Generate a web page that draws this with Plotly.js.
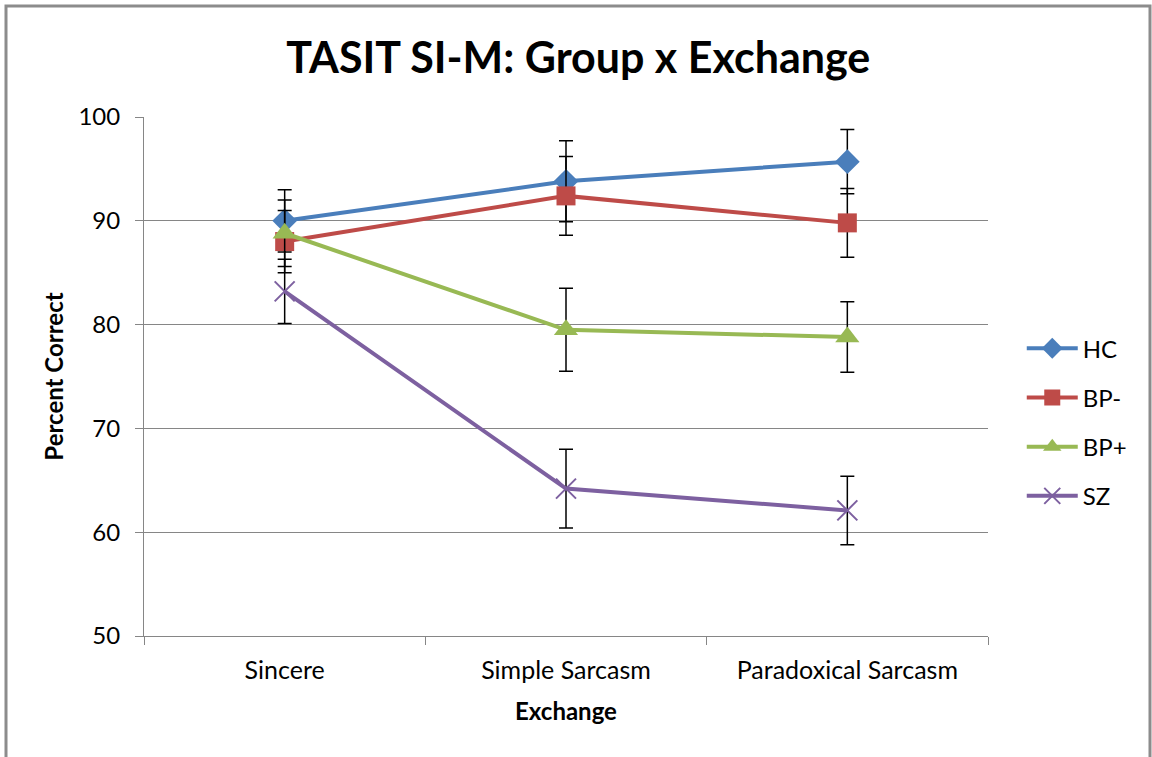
<!DOCTYPE html>
<html>
<head>
<meta charset="utf-8">
<script src="https://cdn.plot.ly/plotly-3.0.1.min.js"></script>
<style>
html,body{margin:0;padding:0;background:#fff;}
#chart{width:1152px;height:757px;}
</style>
</head>
<body>
<div id="chart"></div>
<script>
const categories = ["Sincere", "Simple Sarcasm", "Paradoxical Sarcasm"];
const seriesNames = ["HC", "BP-", "BP+", "SZ"];
const hcValues  = [90.0, 93.8, 95.7];
const hcErrors  = [3.0, 3.9, 3.1];
const bpmValues = [88.0, 92.4, 89.8];
const bpmErrors = [3.0, 3.8, 3.3];
const bppValues = [88.8, 79.5, 78.8];
const bppErrors = [3.2, 4.0, 3.4];
const szValues  = [83.2, 64.2, 62.1];
const szErrors  = [3.1, 3.8, 3.3];
const yTicks = [50, 60, 70, 80, 90, 100];

const colors = ["#4a7ebb", "#be4b48", "#98b954", "#7d60a0"];
const symbols = ["diamond", "square", "triangle-up", "x-thin-open"];
const sizes = [19, 19, 21, 20];
const vals = [hcValues, bpmValues, bppValues, szValues];
const errs = [hcErrors, bpmErrors, bppErrors, szErrors];

const FONT = "Lato, 'Open Sans', sans-serif";

const traces = seriesNames.map((name, i) => ({
  type: "scatter",
  mode: "lines+markers",
  name: name,
  x: categories,
  y: vals[i],
  legendgroup: "g" + i,
  line: {color: colors[i], width: 4},
  marker: {symbol: symbols[i], size: sizes[i], color: colors[i],
           line: {color: colors[i], width: i === 3 ? 2 : 0}},
  error_y: {type: "data", array: errs[i], visible: true, color: "#000", thickness: 1.5, width: 7}
}));

const layout = {
  width: 1152, height: 757,
  margin: {l: 144, r: 164, t: 117, b: 121},
  paper_bgcolor: "#fff", plot_bgcolor: "#fff",
  font: {family: FONT, color: "#000", size: 24},
  title: {text: "<b>TASIT SI-M: Group x Exchange</b>", font: {family: FONT, size: 43, color: "#000"},
          x: 0.502, xanchor: "center", y: 0.923, yanchor: "middle"},
  xaxis: {type: "category", tickson: "boundaries", ticks: "outside", ticklen: 8, tickcolor: "#868686",
          showline: true, linecolor: "#868686", linewidth: 1, showgrid: false, zeroline: false,
          tickfont: {size: 25, family: FONT}, range: [-0.5, 2.5], ticklabelstandoff: 12,
          title: {text: "<b>Exchange</b>", font: {size: 24, family: FONT}, standoff: 20}},
  yaxis: {range: [50, 100], tickvals: yTicks, ticks: "outside", ticklen: 8, tickcolor: "#868686",
          showline: true, linecolor: "#868686", linewidth: 1, showgrid: true, gridcolor: "#868686", gridwidth: 1,
          zeroline: false, tickfont: {size: 24, family: FONT}, ticklabelstandoff: 10,
          title: {text: "<b>Percent Correct</b>", font: {size: 24, family: FONT}, standoff: 8}},
  legend: {x: 1.04, xanchor: "left", y: 0.412, yanchor: "middle", traceorder: "grouped", tracegroupgap: 15,
           itemwidth: 51, font: {size: 24, family: FONT}, bgcolor: "rgba(0,0,0,0)"},
  shapes: [{type: "rect", xref: "paper", yref: "paper",
            x0: (6 - 144) / 844, x1: (1150 - 144) / 844,
            y0: (636 - 790) / 519, y1: (636 - 6) / 519,
            line: {color: "#8c8c8c", width: 3}, fillcolor: "rgba(0,0,0,0)", layer: "below"}],
  showlegend: true
};

Plotly.newPlot("chart", traces, layout, {displayModeBar: false, staticPlot: true});
</script>
</body>
</html>
